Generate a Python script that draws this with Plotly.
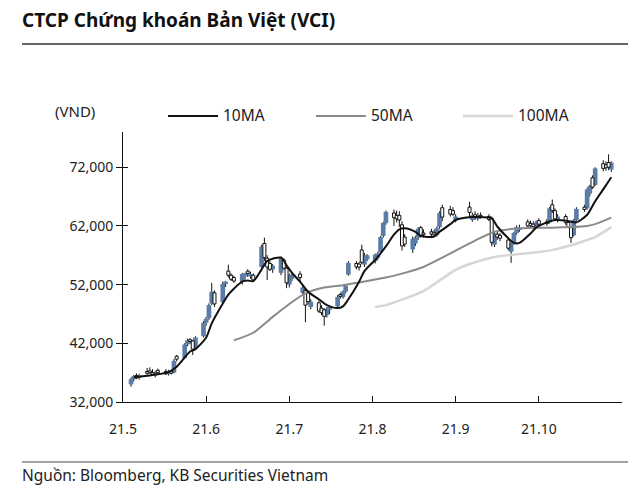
import plotly.graph_objects as go
import pandas as pd

# ---------------- data (thousand VND) ----------------
trade_dates = [d for d in pd.bdate_range("2021-05-04", "2021-10-28")
               if d.strftime("%m-%d") not in ("09-02", "09-03")]

open_k = [35.0, 35.9, 36.5, 36.1, 37.2, 37.3, 37.0, 36.5, 37.4, 37.2, 36.8, 37.2, 37.0, 39.8, 39.5, 41.8, 42.6, 42.4, 41.2, 43.2,
          45.5, 46.3, 48.8, 50.6, 49.0, 52.2, 54.3, 53.6, 53.2, 52.5, 53.4, 54.3, 53.4, 53.6, 55.0, 59.0, 56.5, 55.6, 54.6, 54.0, 56.2, 54.8,
          52.0, 53.0, 53.8, 50.6, 51.0, 50.6, 48.2, 48.9, 48.0, 47.7, 46.8, 47.7, 48.3, 50.3, 49.9, 50.8, 53.7, 55.6, 55.5, 57.9, 55.4, 56.3,
          56.0, 56.6, 57.5, 60.3, 62.5, 64.2, 63.8, 63.8, 62.2, 60.1, 58.0, 59.0, 60.0, 61.7, 60.8, 61.0, 60.9, 60.5, 61.8, 65.1, 64.8, 64.6,
          63.0, 65.2, 63.0, 63.9, 63.2, 63.8, 63.6, 63.3, 58.8, 60.6, 60.4, 59.6, 57.6, 59.0, 60.8, 61.3, 62.7, 62.4, 62.3, 61.8,
          62.9, 62.7, 62.6, 65.6, 64.6, 63.0, 63.6, 62.6, 61.7, 60.4, 63.0, 65.2, 65.0, 67.5, 70.2, 69.0, 72.6, 72.4, 72.8, 71.6]
high_k = [36.2, 36.6, 36.9, 36.8, 37.8, 37.9, 37.6, 37.3, 37.7, 37.6, 37.5, 37.4, 39.3, 40.0, 42.0, 42.8, 42.9, 42.6, 43.2, 45.8,
          46.5, 48.8, 52.3, 51.0, 52.5, 52.6, 55.4, 53.9, 53.5, 54.0, 54.0, 54.6, 54.2, 53.9, 58.8, 60.0, 57.0, 56.0, 55.5, 56.8, 56.5, 55.0,
          53.9, 54.0, 54.3, 51.8, 51.3, 51.0, 49.5, 49.3, 48.5, 48.0, 48.2, 48.4, 50.2, 50.6, 51.0, 52.0, 56.0, 56.0, 55.9, 58.8, 57.4, 57.2,
          57.3, 57.6, 60.3, 62.7, 64.6, 64.8, 64.6, 64.5, 62.8, 60.6, 60.2, 60.3, 61.8, 62.0, 61.4, 61.5, 61.4, 61.9, 64.5, 65.6, 65.4, 65.2,
          64.0, 66.1, 64.3, 64.5, 64.2, 64.3, 64.0, 63.6, 61.0, 61.0, 60.8, 60.0, 59.2, 61.0, 62.1, 62.2, 63.1, 62.9, 62.8, 62.9,
          63.3, 63.2, 65.2, 66.5, 65.0, 64.0, 64.0, 63.0, 62.0, 63.2, 65.2, 65.6, 68.5, 69.0, 70.6, 72.0, 73.2, 73.0, 74.2, 73.0]
low_k = [34.6, 35.5, 35.9, 35.8, 36.6, 36.8, 36.5, 36.2, 36.8, 36.6, 36.5, 36.7, 36.9, 38.9, 39.3, 41.5, 41.9, 40.0, 41.0, 43.0,
         45.0, 46.0, 48.5, 48.2, 48.8, 51.6, 53.2, 52.6, 52.3, 52.0, 52.8, 53.3, 53.0, 52.5, 54.8, 56.0, 52.8, 54.3, 54.0, 53.6, 54.5, 51.4,
         51.5, 52.6, 52.5, 50.3, 45.6, 48.6, 47.8, 47.2, 46.8, 45.0, 46.4, 47.0, 48.0, 49.6, 49.6, 50.5, 53.5, 54.6, 54.4, 55.5, 55.0, 56.0,
         55.6, 56.2, 57.3, 60.0, 62.2, 62.0, 62.6, 61.8, 57.8, 58.4, 57.4, 58.6, 59.6, 60.0, 60.0, 60.1, 60.2, 60.2, 61.5, 62.8, 63.6, 63.7,
         62.6, 63.4, 62.7, 63.0, 62.9, 63.2, 62.8, 58.5, 58.4, 59.6, 59.4, 57.8, 55.7, 58.8, 60.5, 61.0, 61.8, 61.6, 61.6, 61.5,
         62.0, 62.0, 62.4, 64.2, 62.9, 62.6, 62.2, 61.6, 59.1, 60.2, 62.8, 64.4, 64.8, 67.0, 68.3, 68.8, 71.3, 71.4, 71.5, 71.2]
close_k = [35.9, 36.4, 36.1, 36.5, 36.9, 37.0, 36.7, 37.1, 37.0, 36.8, 37.2, 36.9, 39.0, 39.3, 41.8, 42.5, 42.3, 41.0, 43.0, 45.5,
           46.2, 48.5, 50.8, 48.7, 52.1, 52.5, 53.6, 52.9, 52.6, 53.8, 53.9, 53.9, 53.8, 52.8, 58.5, 56.6, 55.0, 54.6, 55.2, 56.5, 54.8, 52.3,
           53.5, 53.7, 53.2, 51.5, 48.5, 49.1, 49.1, 47.5, 47.2, 46.6, 47.9, 48.2, 49.9, 50.0, 50.8, 51.8, 55.7, 55.0, 55.0, 55.8, 57.0, 57.0,
           57.1, 57.3, 60.1, 62.5, 64.4, 63.4, 63.2, 63.0, 58.6, 58.9, 59.8, 60.0, 61.5, 60.3, 60.5, 60.6, 60.6, 61.6, 64.2, 63.5, 64.0, 64.0,
           63.6, 64.3, 63.8, 63.4, 63.8, 63.6, 63.1, 59.2, 60.6, 60.1, 59.9, 58.2, 59.0, 60.8, 61.8, 61.7, 62.0, 62.0, 61.9, 62.6,
           62.3, 62.4, 65.0, 64.6, 63.2, 63.6, 62.6, 61.8, 60.0, 63.0, 64.9, 64.8, 68.2, 68.8, 68.6, 71.8, 71.8, 71.9, 72.0, 72.8]

ma10_dates = ["2021-05-05", "2021-05-12", "2021-05-18", "2021-05-21", "2021-05-26", "2021-05-28",
              "2021-06-01", "2021-06-03", "2021-06-07", "2021-06-09", "2021-06-11", "2021-06-14", "2021-06-16", "2021-06-18",
              "2021-06-21", "2021-06-23", "2021-06-28", "2021-06-30",
              "2021-07-02", "2021-07-05", "2021-07-08", "2021-07-12", "2021-07-15", "2021-07-19", "2021-07-21", "2021-07-23",
              "2021-07-27", "2021-07-29",
              "2021-08-02", "2021-08-04", "2021-08-06", "2021-08-09", "2021-08-11", "2021-08-13", "2021-08-17", "2021-08-19",
              "2021-08-24", "2021-08-26", "2021-08-30",
              "2021-09-01", "2021-09-07", "2021-09-10", "2021-09-14", "2021-09-16", "2021-09-20", "2021-09-22", "2021-09-24",
              "2021-09-28", "2021-09-30",
              "2021-10-04", "2021-10-07", "2021-10-11", "2021-10-13", "2021-10-15", "2021-10-19", "2021-10-21", "2021-10-22",
              "2021-10-26", "2021-10-28"]
ma10_k = [36.2, 36.6, 37.1, 38.0, 40.6, 41.0,
          43.0, 45.4, 48.8, 50.3, 51.3, 52.5, 52.7, 52.6, 54.6, 56.0, 56.6, 55.3,
          54.0, 52.5, 50.8, 49.5, 48.5, 48.0, 48.3, 49.5, 52.5, 54.3,
          56.2, 57.3, 58.5, 60.5, 61.4, 61.6, 61.0, 60.3, 60.2, 61.0, 62.3,
          63.0, 63.5, 63.5, 63.3, 61.9, 59.9, 59.1, 59.1, 60.7, 61.7,
          62.6, 63.0, 62.9, 62.7, 62.6, 63.9, 65.4, 66.2, 68.9, 70.3]

ma50_dates = ["2021-06-11", "2021-06-18", "2021-06-25", "2021-07-01", "2021-07-07", "2021-07-14", "2021-07-21",
              "2021-07-30", "2021-08-06", "2021-08-13", "2021-08-20", "2021-08-27", "2021-09-01", "2021-09-08",
              "2021-09-15", "2021-09-22", "2021-09-29", "2021-10-06", "2021-10-13", "2021-10-19", "2021-10-22", "2021-10-28"]
ma50_k = [42.5, 43.8, 46.5, 48.7, 50.5, 51.5, 51.9, 52.6, 53.2, 54.0, 55.0, 56.6, 57.8, 59.5,
          61.0, 61.5, 61.7, 61.7, 61.8, 62.0, 62.3, 63.4]

ma100_dates = ["2021-08-02", "2021-08-06", "2021-08-13", "2021-08-20", "2021-08-27", "2021-09-01", "2021-09-08",
               "2021-09-15", "2021-09-22", "2021-09-30", "2021-10-07", "2021-10-13", "2021-10-19", "2021-10-22", "2021-10-28"]
ma100_k = [48.2, 48.5, 49.6, 50.9, 53.0, 54.5, 55.8, 56.7, 57.1, 57.5, 58.0, 58.7, 59.6, 60.1, 61.8]

month_ticks = ["21.5", "21.6", "21.7", "21.8", "21.9", "21.10"]
y_ticks = [32000, 42000, 52000, 62000, 72000]

# ---------------- helpers ----------------
def mpos(d):
    d = pd.Timestamp(d)
    return (d.month - 5) + (d.day - 1) / d.days_in_month

def vnd(vals):
    return [v * 1000 for v in vals]

X = [mpos(d) for d in trade_dates]
O, H, L, C = vnd(open_k), vnd(high_k), vnd(low_k), vnd(close_k)

OFF = 8  # page body margin in the browser
FIG_W, FIG_H = 640 - OFF, 492 - OFF
L_PX, T_PX, W_PX, H_PX = 123, 132, 499, 270   # plot area in screen pixels

def px(x):
    return (x - L_PX) / W_PX
def py(y):
    return (T_PX + H_PX - y) / H_PX

FONT = "Noto Sans"
TXT = "#222222"
BLUE = "#5a7da8"

fig = go.Figure()

# wicks (drawn below bodies)
wx, wy = [], []
for xi, lo, hi in zip(X, L, H):
    wx += [xi, xi, None]
    wy += [lo, hi, None]
fig.add_trace(go.Scatter(x=wx, y=wy, mode="lines", line=dict(color="#111111", width=1),
                         showlegend=False, hoverinfo="skip", yaxis="y"))

# candle bodies
up = [i for i in range(len(X)) if C[i] >= O[i]]
dn = [i for i in range(len(X)) if C[i] < O[i]]
fig.add_trace(go.Bar(x=[X[i] for i in up], base=[O[i] for i in up],
                     y=[max(C[i] - O[i], 150) for i in up], width=0.056,
                     marker=dict(color=BLUE, line=dict(width=0)), yaxis="y2",
                     showlegend=False, hoverinfo="skip"))
fig.add_trace(go.Bar(x=[X[i] for i in dn], base=[C[i] for i in dn],
                     y=[O[i] - C[i] for i in dn], width=0.036,
                     marker=dict(color="#ffffff", line=dict(color="#111111", width=1)), yaxis="y2",
                     showlegend=False, hoverinfo="skip"))

fig.add_trace(go.Scatter(x=[mpos(d) for d in ma100_dates], y=vnd(ma100_k), mode="lines",
                         line=dict(color="#d6d6d6", width=2.5, shape="spline", smoothing=0.6),
                         yaxis="y2", showlegend=False))
fig.add_trace(go.Scatter(x=[mpos(d) for d in ma50_dates], y=vnd(ma50_k), mode="lines",
                         line=dict(color="#8a8a8a", width=2, shape="spline", smoothing=0.6),
                         yaxis="y2", showlegend=False))
fig.add_trace(go.Scatter(x=[mpos(d) for d in ma10_dates], y=vnd(ma10_k), mode="lines",
                         line=dict(color="#111111", width=2, shape="spline", smoothing=0.8),
                         yaxis="y2", showlegend=False))

YR = [32000, 78000]
fig.update_layout(
    width=FIG_W, height=FIG_H,
    margin=dict(l=L_PX - OFF, r=FIG_W - (L_PX - OFF) - W_PX, t=T_PX - OFF,
                b=FIG_H - (T_PX - OFF) - H_PX, pad=0),
    paper_bgcolor="white", plot_bgcolor="white",
    font=dict(family=FONT, color=TXT, size=14),
    barmode="overlay",
    xaxis=dict(range=[0, 6.0], tickvals=list(range(len(month_ticks))), ticktext=month_ticks,
               ticks="inside", ticklen=6, tickcolor="#111111", showline=True, linecolor="#111111",
               linewidth=1, showgrid=False, zeroline=False,
               tickfont=dict(size=14, color=TXT), ticklabelstandoff=14),
    yaxis=dict(range=YR, tickvals=y_ticks, tickformat=",", ticks="outside", ticklen=6,
               tickcolor="#111111", showline=True, linecolor="#111111", linewidth=1,
               showgrid=False, zeroline=False, tickfont=dict(size=14, color=TXT)),
    yaxis2=dict(range=YR, tickvals=y_ticks, overlaying="y", side="left", anchor="x",
                ticks="inside", ticklen=5, tickcolor="#111111", showticklabels=False,
                showline=False, showgrid=False, zeroline=False),
)

shapes = [
    dict(type="line", xref="paper", yref="paper", x0=px(22), x1=px(628), y0=py(44), y1=py(44),
         line=dict(color="#666666", width=2)),
    dict(type="line", xref="paper", yref="paper", x0=px(22), x1=px(628), y0=py(462), y1=py(462),
         line=dict(color="#444444", width=1)),
]
legend_items = [("10MA", "#111111", 168, 2), ("50MA", "#8a8a8a", 316, 2), ("100MA", "#d6d6d6", 463, 2.5)]
annotations = [
    dict(text="<b>CTCP Chứng khoán Bản Việt (VCI)</b>", xref="paper", yref="paper", x=px(20), y=py(20),
         xanchor="left", yanchor="middle", showarrow=False, font=dict(size=19, color="#111111")),
    dict(text="Nguồn: Bloomberg, KB Securities Vietnam", xref="paper", yref="paper", x=px(20), y=py(475),
         xanchor="left", yanchor="middle", showarrow=False, font=dict(size=15.5, color=TXT)),
    dict(text="(VND)", xref="paper", yref="paper", x=px(53), y=py(111),
         xanchor="left", yanchor="middle", showarrow=False, font=dict(size=15, color=TXT)),
]
for name, col, x0, w in legend_items:
    shapes.append(dict(type="line", xref="paper", yref="paper", x0=px(x0), x1=px(x0 + 50),
                       y0=py(116), y1=py(116), line=dict(color=col, width=w)))
    annotations.append(dict(text=name, xref="paper", yref="paper", x=px(x0 + 53), y=py(115),
                            xanchor="left", yanchor="middle", showarrow=False,
                            font=dict(size=15.5, color=TXT)))
fig.update_layout(shapes=shapes, annotations=annotations)

fig.write_html("out.html")
